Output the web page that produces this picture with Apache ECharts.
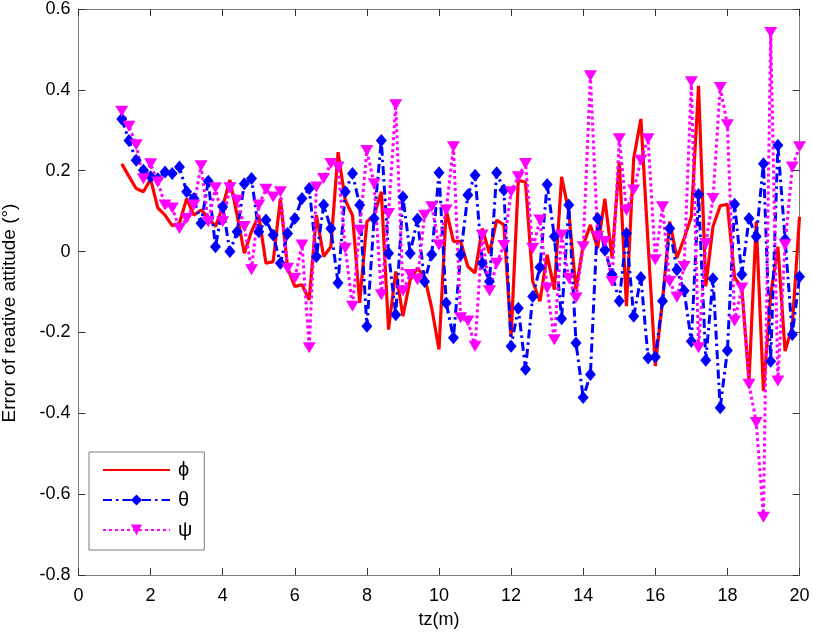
<!DOCTYPE html>
<html>
<head>
<meta charset="utf-8">
<script src="https://cdn.jsdelivr.net/npm/echarts@6/dist/echarts.min.js"></script>
<style>
html,body{margin:0;padding:0;background:#fff;}
#chart{width:813px;height:636px;}
</style>
</head>
<body>
<div id="chart"></div>
<script>
// tz (m) sample positions
var tz = [1.2,1.4,1.6,1.8,2.0,2.2,2.4,2.6,2.8,3.0,3.2,3.4,3.6,3.8,4.0,4.2,4.4,4.6,4.8,5.0,
5.2,5.4,5.6,5.8,6.0,6.2,6.4,6.6,6.8,7.0,7.2,7.4,7.6,7.8,8.0,8.2,8.4,8.6,8.8,9.0,
9.2,9.4,9.6,9.8,10.0,10.2,10.4,10.6,10.8,11.0,11.2,11.4,11.6,11.8,12.0,12.2,12.4,12.6,12.8,13.0,
13.2,13.4,13.6,13.8,14.0,14.2,14.4,14.6,14.8,15.0,15.2,15.4,15.6,15.8,16.0,16.2,16.4,16.6,16.8,17.0,
17.2,17.4,17.6,17.8,18.0,18.2,18.4,18.6,18.8,19.0,19.2,19.4,19.6,19.8,20.0];

var phi = [0.217,0.186,0.156,0.148,0.179,0.108,0.090,0.064,0.070,0.131,0.090,0.103,0.084,0.062,0.111,0.177,0.090,-0.004,0.050,0.090,
-0.029,-0.025,0.131,-0.041,-0.086,-0.082,-0.119,0.090,-0.012,0.012,0.246,0.127,0.090,-0.127,0.074,0.090,0.148,-0.193,-0.049,-0.160,
-0.070,-0.041,-0.062,-0.140,-0.242,0.103,0.025,0.025,-0.037,-0.053,0.057,-0.004,0.078,0.066,-0.210,0.176,0.172,-0.074,-0.123,-0.008,
-0.094,0.185,0.098,-0.094,0.016,0.066,0.008,0.131,-0.016,0.222,-0.135,0.230,0.328,0.020,-0.283,-0.123,0.074,-0.016,0.033,0.086,
0.410,-0.086,0.062,0.113,0.117,-0.064,-0.090,-0.320,0.074,-0.345,-0.107,0.012,-0.246,-0.185,0.086];

var theta = [0.328,0.275,0.226,0.201,0.185,0.180,0.197,0.193,0.209,0.148,0.131,0.070,0.174,0.012,0.111,0.000,0.049,0.168,0.181,0.049,
0.078,0.041,-0.029,0.045,0.082,0.131,0.156,-0.012,0.115,0.057,-0.078,0.148,0.193,0.115,-0.185,0.082,0.275,-0.004,-0.156,0.135,
-0.004,0.080,-0.074,-0.007,0.195,-0.127,-0.213,-0.008,0.140,0.189,-0.029,-0.074,0.195,0.152,-0.234,-0.140,-0.291,-0.111,-0.039,0.166,
0.037,-0.166,0.115,-0.226,-0.361,-0.304,0.082,0.004,-0.057,-0.122,0.045,-0.160,-0.064,-0.263,-0.261,-0.122,0.057,-0.045,-0.097,-0.222,
0.141,-0.269,-0.067,-0.386,-0.245,0.117,-0.057,0.082,0.037,0.217,-0.271,0.263,0.030,-0.205,-0.062];

var psi = [0.347,0.310,0.264,0.180,0.217,0.172,0.115,0.108,0.057,0.082,0.115,0.212,0.074,0.158,0.074,0.158,0.127,0.062,-0.045,0.115,
0.154,0.135,0.148,-0.041,-0.066,0.016,-0.238,0.160,0.181,0.218,0.209,0.008,-0.135,0.053,0.250,0.168,-0.107,0.094,0.363,-0.097,
-0.057,-0.070,0.090,0.111,0.016,0.103,0.259,-0.164,-0.172,-0.234,0.041,-0.097,-0.029,0.015,0.148,0.185,0.218,0.008,0.078,-0.090,
-0.218,0.041,-0.066,-0.115,0.012,0.435,0.037,0.025,-0.074,0.279,0.102,0.152,0.226,0.279,-0.020,0.111,-0.074,-0.113,-0.037,0.420,
-0.238,0.020,0.131,0.406,0.314,-0.172,-0.090,-0.328,-0.423,-0.657,0.542,-0.320,0.017,0.209,0.259];

var seriesNames = ['\u03d5', '\u03b8', '\u03c8'];
var xLabel = 'tz(m)';
var yLabel = 'Error of reative attitude (\u00b0)';

function pairs(ys){ return ys.map(function(v,i){ return [tz[i], v]; }); }

var FONT = '"Liberation Sans", Arial, Helvetica, sans-serif';
var axisGray = '#7a7a7a';

var chart = echarts.init(document.getElementById('chart'), null, {renderer:'canvas'});
chart.setOption({
  animation: false,
  backgroundColor: '#fff',
  textStyle: {fontFamily: FONT},
  grid: {left: 78.5, right: 13.5, top: 6.5, bottom: 61, containLabel: false},
  graphic: [{
    type: 'text', x: 10, y: 313, rotation: Math.PI / 2,
    style: {text: yLabel, fontSize: 19, fontFamily: FONT, fill: '#000',
      align: 'center', verticalAlign: 'middle'}
  }],
  xAxis: [{
    type: 'value', min: 0, max: 20, interval: 2,
    name: xLabel, nameLocation: 'middle', nameGap: 36,
    nameTextStyle: {fontSize: 18, color: '#000', fontFamily: FONT},
    axisLine: {show: true, onZero: false, lineStyle: {color: axisGray, width: 1}},
    axisTick: {show: true, inside: true, length: 7, lineStyle: {color: '#333'}},
    axisLabel: {fontSize: 18, color: '#000', margin: 12, fontFamily: FONT},
    splitLine: {show: false}
  },{
    type: 'value', min: 0, max: 20, interval: 2, position: 'top',
    axisLine: {show: true, onZero: false, lineStyle: {color: axisGray, width: 1}},
    axisTick: {show: true, inside: true, length: 7, lineStyle: {color: '#333'}},
    axisLabel: {show: false}, splitLine: {show: false}
  }],
  yAxis: [{
    type: 'value', min: -0.8, max: 0.6, interval: 0.2,
    axisLine: {show: true, onZero: false, lineStyle: {color: axisGray, width: 1}},
    axisTick: {show: true, inside: true, length: 7, lineStyle: {color: '#333'}},
    axisLabel: {fontSize: 18, color: '#000', margin: 8, fontFamily: FONT,
      formatter: function(v){ return (Math.round(v*10)/10).toString(); }},
    splitLine: {show: false}
  },{
    type: 'value', min: -0.8, max: 0.6, interval: 0.2, position: 'right',
    axisLine: {show: true, onZero: false, lineStyle: {color: axisGray, width: 1}},
    axisTick: {show: true, inside: true, length: 7, lineStyle: {color: '#333'}},
    axisLabel: {show: false}, splitLine: {show: false}
  }],
  legend: {
    orient: 'vertical', left: 89, top: 452,
    padding: [8, 12, 10, 13], itemGap: 10,
    itemWidth: 67, itemHeight: 14,
    borderColor: axisGray, borderWidth: 1, backgroundColor: '#fff',
    textStyle: {fontSize: 20, color: '#000', fontFamily: FONT, padding: [0,0,0,3]},
    data: [
      {name: seriesNames[0], itemStyle: {opacity: 0}},
      {name: seriesNames[1]},
      {name: seriesNames[2]}
    ]
  },
  series: [{
    name: seriesNames[0], type: 'line', data: pairs(phi),
    showSymbol: false, symbol: 'none',
    lineStyle: {color: '#ff0000', width: 3.2, type: 'solid'},
    itemStyle: {color: '#ff0000'}
  },{
    name: seriesNames[1], type: 'line', data: pairs(theta),
    symbol: 'diamond', symbolSize: [11, 13],
    lineStyle: {color: '#0000ff', width: 3, type: [9, 4, 2.5, 4]},
    itemStyle: {color: '#0000ff'}
  },{
    name: seriesNames[2], type: 'line', data: pairs(psi),
    symbol: 'triangle', symbolSize: [13, 11], symbolRotate: 180,
    lineStyle: {color: '#ff00ff', width: 3, type: [3, 3]},
    itemStyle: {color: '#ff00ff'}
  }]
});
</script>
</body>
</html>
